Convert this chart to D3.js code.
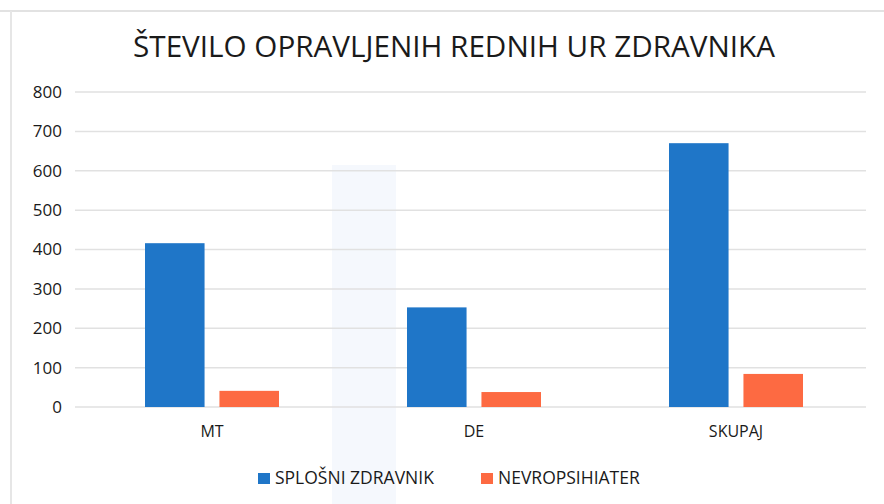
<!DOCTYPE html>
<html>
<head>
<meta charset="utf-8">
<script src="https://cdn.jsdelivr.net/npm/d3@7.9.0/dist/d3.min.js"></script>
<style>
  body { margin: 0; background: #fff; }
  svg { display: block; }
  text { font-family: "Open Sans", Lato, sans-serif; fill: #1a1a1a; }
</style>
</head>
<body>
<svg width="884" height="504"></svg>
<script>
// data
const categories = ['MT', 'DE', 'SKUPAJ'];
const seriesNames = ['SPLOŠNI ZDRAVNIK', 'NEVROPSIHIATER'];
const splosni = [416, 253, 670];
const nevro = [41, 38, 84];
const yTicks = [0, 100, 200, 300, 400, 500, 600, 700, 800];
const colors = ['#1f76c8', '#fd6a42'];

const svg = d3.select('svg');
const font = '"Open Sans", Lato, sans-serif';

// faint scan frame
svg.append('line').attr('x1', 0).attr('x2', 884).attr('y1', 11).attr('y2', 11)
  .attr('stroke', '#e2e2e2').attr('stroke-width', 2);
svg.append('line').attr('x1', 11).attr('x2', 11).attr('y1', 11).attr('y2', 504)
  .attr('stroke', '#e6e6e6').attr('stroke-width', 2);
// faint scanner band
svg.append('rect').attr('x', 332).attr('y', 165).attr('width', 64).attr('height', 339)
  .attr('fill', '#f5f8fd');

// title
let title = svg.append('text')
  .attr('x', 454).attr('y', 57)
  .attr('text-anchor', 'middle')
  .style('font-size', '26px')
  .text('ŠTEVILO OPRAVLJENIH REDNIH UR ZDRAVNIKA');
// scale title font so its width matches the original (~642px)
let tw = title.node().getComputedTextLength();
title.style('font-size', (26 * 642 / tw) + 'px');

// scales
let x = d3.scaleBand().domain(categories).range([81, 867]);
let xs = d3.scaleBand().domain(seriesNames).range([0, 134]).paddingInner(0.2);
let y = d3.scaleLinear().domain([0, 800]).range([407, 92]);

// gridlines
svg.append('g').selectAll('line').data(yTicks).join('line')
  .attr('x1', 75).attr('x2', 866)
  .attr('y1', d => y(d)).attr('y2', d => y(d))
  .attr('stroke', '#e1e1e1').attr('stroke-width', 1.5);

// y axis labels
let yAxis = svg.append('g')
  .attr('transform', 'translate(62,0)')
  .call(d3.axisLeft(y).tickValues(yTicks).tickSize(0).tickPadding(0));
yAxis.select('.domain').remove();
yAxis.selectAll('text').style('font-size', '17px').attr('fill', '#1a1a1a')
  .style('font-family', font);

// bars
let seriesData = [splosni, nevro];
seriesData.forEach((vals, si) => {
  svg.append('g').selectAll('rect').data(categories).join('rect')
    .attr('x', d => x(d) + (x.bandwidth() - 134) / 2 + xs(seriesNames[si]))
    .attr('width', xs.bandwidth())
    .attr('y', (d, i) => y(vals[i]))
    .attr('height', (d, i) => y(0) - y(vals[i]))
    .attr('fill', colors[si]);
});

// x axis labels
let xAxis = svg.append('g')
  .attr('transform', 'translate(0,407)')
  .call(d3.axisBottom(x).tickSize(0).tickPadding(19));
xAxis.select('.domain').remove();
xAxis.selectAll('text').style('font-size', '16px').attr('fill', '#1a1a1a')
  .style('font-family', font);

// legend
let legendX = [258, 481];
seriesNames.forEach((name, i) => {
  svg.append('rect')
    .attr('x', legendX[i]).attr('y', 473)
    .attr('width', 12).attr('height', 11)
    .attr('fill', colors[i]);
  svg.append('text')
    .attr('x', legendX[i] + 17).attr('y', 484)
    .style('font-size', '17.5px')
    .text(name);
});
</script>
</body>
</html>
